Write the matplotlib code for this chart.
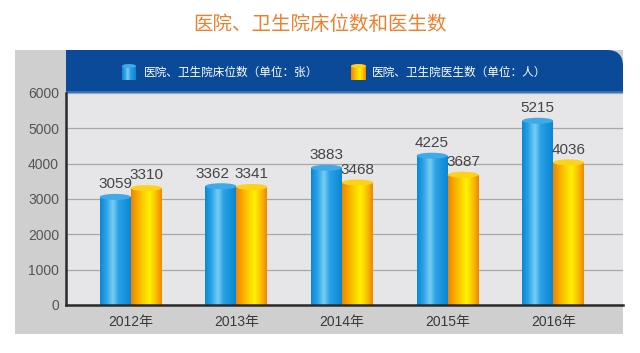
import matplotlib
matplotlib.use("Agg")
import matplotlib.pyplot as plt
import numpy as np
from matplotlib.patches import Rectangle, FancyBboxPatch, Ellipse
from matplotlib.colors import LinearSegmentedColormap

years = ["2012年", "2013年", "2014年", "2015年", "2016年"]
beds = [3059, 3362, 3883, 4225, 5215]
doctors = [3310, 3341, 3468, 3687, 4036]
series_names = ["医院、卫生院床位数（单位：张）", "医院、卫生院医生数（单位：人）"]
title = "医院、卫生院床位数和医生数"
yticks = [0, 1000, 2000, 3000, 4000, 5000, 6000]

FONT = ["Liberation Sans", "Noto Sans CJK SC"]
CJK = ["Noto Sans CJK SC", "DejaVu Sans"]

W, H = 640, 353
fig = plt.figure(figsize=(W / 100, H / 100), dpi=100)
fig.patch.set_facecolor("white")

# background axes in pixel units
bg = fig.add_axes([0, 0, 1, 1], zorder=0)
bg.set_xlim(0, W)
bg.set_ylim(H, 0)
bg.axis("off")

L, R, T, B = 66, 623, 93, 305
panel_left, panel_top, panel_bottom = 15, 50, 334
bg.add_patch(Rectangle((panel_left, panel_top), R - panel_left, panel_bottom - panel_top,
                       facecolor="#CFCFD0", edgecolor="none"))
hdr_col = "#0B4A98"
bg.add_patch(FancyBboxPatch((L, panel_top), R - L, T - panel_top,
                            boxstyle="round,pad=0,rounding_size=16",
                            facecolor=hdr_col, edgecolor="none"))
bg.add_patch(Rectangle((L, panel_top), 40, T - panel_top, facecolor=hdr_col, edgecolor="none"))
bg.add_patch(Rectangle((L, panel_top + 20), R - L, T - panel_top - 20, facecolor=hdr_col, edgecolor="none"))
bg.add_patch(Rectangle((L, T - 2), R - L, 2, facecolor="#2F73C0", edgecolor="none"))

bg.text(320, 24, title, ha="center", va="center", fontsize=14, color="#EE7F2D", family=CJK)

blue_cmap = LinearSegmentedColormap.from_list(
    "blue", [(0, "#0B88D6"), (0.2, "#2AA3E6"), (0.42, "#78CDF4"), (0.6, "#2BA2E6"), (1, "#0A86D4")])
orange_cmap = LinearSegmentedColormap.from_list(
    "orange", [(0, "#F08400"), (0.3, "#FBBE00"), (0.6, "#FFF200"), (0.8, "#FBC300"), (1, "#F08800")])
blue_top = "#3FAAE8"
orange_top = "#FFD21A"

# legend icons
grad = np.linspace(0, 1, 64).reshape(1, -1)
for (x0, x1, cmap, topc) in [(122, 136, blue_cmap, blue_top), (351, 366, orange_cmap, orange_top)]:
    bg.imshow(grad, cmap=cmap, extent=(x0, x1, 80, 66), aspect="auto", zorder=3)
    bg.add_patch(Ellipse(((x0 + x1) / 2, 66), x1 - x0, 4, facecolor=topc, edgecolor="none", zorder=4))
bg.text(144, 72, series_names[0], ha="left", va="center", fontsize=8.4, color="white", family=CJK)
bg.text(372, 72, series_names[1], ha="left", va="center", fontsize=8.4, color="white", family=CJK)

# main axes
ax = fig.add_axes([L / W, (H - B) / H, (R - L) / W, (B - T) / H], zorder=1)
ax.set_facecolor("#E6E6E8")
ymax = yticks[-1]
ax.set_ylim(0, ymax)
spacing = 105.6
c0 = 130.8
x = np.arange(len(years))
w = 31 / spacing

ax.set_yticks(yticks)
ax.set_yticklabels([str(v) for v in yticks], fontsize=10, color="#555555", family=FONT)
ax.set_xticks(x)
ax.set_xticklabels(years, fontsize=10, color="#3A3A3A", family=FONT)
ax.tick_params(axis="both", length=0)
ax.tick_params(axis="y", pad=5)
ax.tick_params(axis="x", pad=7)
ax.grid(axis="y", color="#A8A8A8", linewidth=0.9)
ax.set_axisbelow(True)
for s in ["top", "right"]:
    ax.spines[s].set_visible(False)
for s in ["left", "bottom"]:
    ax.spines[s].set_color("#2A2A2A")
    ax.spines[s].set_linewidth(1.8)
    ax.spines[s].set_zorder(10)

ell_h = ymax * 6 / (B - T)
label_nudge = {("beds", 1): -6}

def draw(name, vals, offset, cmap, topc):
    bars = ax.bar(x + offset, vals, width=w, align="edge", facecolor="none", edgecolor="none", zorder=3)
    for i, (b, v) in enumerate(zip(bars, vals)):
        bx, bw, bh = b.get_x(), b.get_width(), b.get_height()
        im = ax.imshow(grad, cmap=cmap, extent=(bx, bx + bw, 0, bh), aspect="auto", zorder=3)
        im.set_clip_path(b)
        ax.add_patch(Ellipse((bx + bw / 2, bh), bw, ell_h, facecolor=topc, edgecolor="none", zorder=4))
        ax.annotate(str(v), (bx + bw / 2, bh), xytext=(label_nudge.get((name, i), 0), 4),
                    textcoords="offset points",
                    ha="center", va="bottom", fontsize=11, color="#444444", family=FONT, zorder=5)

draw("beds", beds, -w, blue_cmap, blue_top)
draw("doctors", doctors, 0, orange_cmap, orange_top)
ax.set_xlim((L - c0) / spacing, (R - c0) / spacing)
ax.set_ylim(0, ymax)

fig.savefig("out.png", dpi=100)
